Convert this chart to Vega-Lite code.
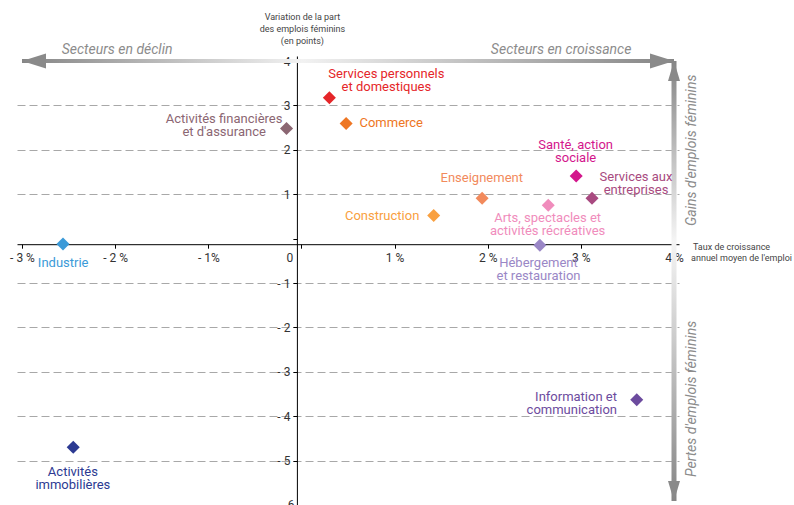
{
  "$schema": "https://vega.github.io/schema/vega-lite/v6.json",
  "width": 794,
  "height": 505,
  "autosize": {"type": "fit", "contains": "padding"},
  "padding": {"left": 9, "top": 12, "right": 2, "bottom": -7},
  "background": "white",
  "config": {"view": {"stroke": null}, "font": "Roboto"},
  "datasets": {
    "points": [
      {"sector": "Services personnels et domestiques", "x": 0.30, "y": 3.17},
      {"sector": "Commerce", "x": 0.48, "y": 2.59},
      {"sector": "Activités financières et d'assurance", "x": -0.16, "y": 2.48},
      {"sector": "Enseignement", "x": 1.94, "y": 0.91},
      {"sector": "Construction", "x": 1.42, "y": 0.52},
      {"sector": "Arts, spectacles et activités récréatives", "x": 2.65, "y": 0.75},
      {"sector": "Santé, action sociale", "x": 2.95, "y": 1.41},
      {"sector": "Services aux entreprises", "x": 3.12, "y": 0.91},
      {"sector": "Hébergement et restauration", "x": 2.56, "y": -0.15},
      {"sector": "Industrie", "x": -2.56, "y": -0.12},
      {"sector": "Information et communication", "x": 3.60, "y": -3.63},
      {"sector": "Activités immobilières", "x": -2.45, "y": -4.70}
    ],
    "labels": [
      {"sector": "Services personnels et domestiques", "label": "Services personnels\net domestiques", "anchor": "center", "x": 0.912, "y": 3.707},
      {"sector": "Commerce", "label": "Commerce", "anchor": "left", "x": 0.623, "y": 2.61},
      {"sector": "Activités financières et d'assurance", "label": "Activités financières\net d'assurance", "anchor": "center", "x": -0.83, "y": 2.702},
      {"sector": "Enseignement", "label": "Enseignement", "anchor": "center", "x": 1.936, "y": 1.36},
      {"sector": "Construction", "label": "Construction", "anchor": "right", "x": 1.266, "y": 0.506},
      {"sector": "Arts, spectacles et activités récréatives", "label": "Arts, spectacles et\nactivités récréatives", "anchor": "center", "x": 2.643, "y": 0.456},
      {"sector": "Santé, action sociale", "label": "Santé, action\nsociale", "anchor": "center", "x": 2.944, "y": 2.097},
      {"sector": "Services aux entreprises", "label": "Services aux\nentreprises", "anchor": "center", "x": 3.592, "y": 1.381},
      {"sector": "Hébergement et restauration", "label": "Hébergement\net restauration", "anchor": "center", "x": 2.545, "y": -0.56},
      {"sector": "Industrie", "label": "Industrie", "anchor": "center", "x": -2.558, "y": -0.558},
      {"sector": "Information et communication", "label": "Information et\ncommunication", "anchor": "right", "x": 3.388, "y": -3.562},
      {"sector": "Activités immobilières", "label": "Activités\nimmobilières", "anchor": "center", "x": -2.454, "y": -5.266}
    ],
    "hbar": [{"x": -3, "x2": 4, "y": 4}],
    "vbar": [{"x": 4, "y": 4, "y2": -5.91}],
    "heads": [
      {"dir": "left", "x": -3, "y": 4},
      {"dir": "right", "x": 4, "y": 4},
      {"dir": "up", "x": 4, "y": 4},
      {"dir": "down", "x": 4, "y": -5.91}
    ],
    "bottomtick": [{"text": "- 6", "x": 0, "y": -6}],
    "notes": [
      {"text": "Secteurs en déclin", "kind": "h", "x": -1.979, "y": 4},
      {"text": "Secteurs en croissance", "kind": "h", "x": 2.788, "y": 4},
      {"text": "Gains d'emplois féminins", "kind": "v", "x": 4, "y": 1.99},
      {"text": "Pertes d'emplois féminins", "kind": "v", "x": 4, "y": -3.61},
      {"text": "Variation de la part\ndes emplois féminins\n(en points)", "kind": "yt", "x": 0, "y": 4},
      {"text": "Taux de croissance", "kind": "xt1", "x": 4, "y": 0},
      {"text": "annuel moyen de l'emploi", "kind": "xt2", "x": 4, "y": 0}
    ]
  },
  "encoding": {
    "x": {
      "field": "x",
      "type": "quantitative",
      "scale": {"domain": [-3, 4], "nice": false, "zero": false},
      "axis": {
        "orient": "bottom",
        "offset": -265.8,
        "values": [-3, -2, -1, 0, 1, 2, 3, 4],
        "labelExpr": "datum.value == 0 ? '0' : datum.value == -1 ? '- 1%' : datum.value < 0 ? '- ' + abs(datum.value) + ' %' : datum.value + ' %'",
        "labelOffset": {"condition": {"test": "datum.value == 0", "value": -12}, "value": 0},
        "labelFont": "Roboto",
        "labelFontSize": 12,
        "labelColor": "#333333",
        "labelPadding": 4,
        "labelFlush": false,
        "labelOverlap": false,
        "grid": false,
        "domainColor": "#000000",
        "domainWidth": 1,
        "tickColor": "#000000",
        "tickSize": 4,
        "title": null
      }
    },
    "y": {
      "field": "y",
      "type": "quantitative",
      "scale": {"domain": [-6, 4], "nice": false, "zero": false},
      "axis": {
        "orient": "left",
        "offset": -279.9,
        "values": [-6, -5, -4, -3, -2, -1, 0, 1, 2, 3, 4],
        "labelExpr": "datum.value == 0 || datum.value == -6 ? '' : datum.value < 0 ? '- ' + abs(datum.value) : datum.label",
        "labelFont": "Roboto",
        "labelFontSize": 12,
        "labelColor": "#333333",
        "labelPadding": 3,
        "labelFlush": false,
        "labelOverlap": false,
        "grid": true,
        "gridColor": "#a8a8a8",
        "gridDash": [8, 4],
        "gridWidth": 1,
        "gridOpacity": {"condition": {"test": "datum.value == 0 || datum.value == 4", "value": 0}, "value": 1},
        "domainColor": "#000000",
        "domainWidth": 1,
        "tickColor": "#000000",
        "tickSize": 4,
        "title": null
      }
    }
  },
  "layer": [
    {
      "data": {"name": "hbar"},
      "mark": {
        "type": "bar",
        "height": 4,
        "color": {
          "gradient": "linear",
          "x1": 0, "y1": 0, "x2": 1, "y2": 0,
          "stops": [
            {"offset": 0, "color": "#858585"},
            {"offset": 0.43, "color": "#f2f2f2"},
            {"offset": 1, "color": "#858585"}
          ]
        }
      },
      "encoding": {"x2": {"field": "x2"}}
    },
    {
      "data": {"name": "vbar"},
      "mark": {
        "type": "bar",
        "width": 5,
        "color": {
          "gradient": "linear",
          "x1": 0, "y1": 0, "x2": 0, "y2": 1,
          "stops": [
            {"offset": 0, "color": "#858585"},
            {"offset": 0.41, "color": "#f5f5f5"},
            {"offset": 1, "color": "#858585"}
          ]
        }
      },
      "encoding": {"y2": {"field": "y2"}}
    },
    {
      "data": {"name": "heads"},
      "mark": {"type": "point", "filled": true, "size": 36, "color": "#8a8a8a", "opacity": 1},
      "encoding": {
        "shape": {
          "field": "dir",
          "type": "nominal",
          "scale": {
            "domain": ["left", "right", "up", "down"],
            "range": [
              "M 0 0 L 8 -2.5 L 8 2.5 Z",
              "M 0 0 L -8 -2.5 L -8 2.5 Z",
              "M 0 0 L -2 6.667 L 2 6.667 Z",
              "M 0 0 L -2 -6.667 L 2 -6.667 Z"
            ]
          },
          "legend": null
        }
      }
    },
    {
      "data": {"name": "points"},
      "mark": {"type": "point", "shape": "diamond", "filled": true, "size": 170, "opacity": 1},
      "encoding": {
        "color": {
          "field": "sector",
          "type": "nominal",
          "scale": {
            "domain": ["Services personnels et domestiques", "Commerce", "Activités financières et d'assurance", "Enseignement", "Construction", "Arts, spectacles et activités récréatives", "Santé, action sociale", "Services aux entreprises", "Hébergement et restauration", "Industrie", "Information et communication", "Activités immobilières"],
            "range": ["#e52629", "#ee7623", "#8b6672", "#f28a5c", "#f9a040", "#f08cbc", "#d3168c", "#a84a80", "#9a87c6", "#3b9ad8", "#6c4b9e", "#2c3a92"]
          },
          "legend": null
        }
      }
    },
    {
      "data": {"name": "bottomtick"},
      "mark": {"type": "text", "align": "right", "baseline": "middle", "dx": -7, "clip": true, "fontSize": 12, "color": "#333333", "font": "Roboto"},
      "encoding": {"text": {"field": "text"}}
    },
    {
      "data": {"name": "labels"},
      "transform": [{"filter": "datum.anchor == 'center'"}],
      "mark": {"type": "text", "align": "center", "baseline": "middle", "fontSize": 13, "lineHeight": 13, "lineBreak": "\n", "font": "Roboto"},
      "encoding": {"text": {"field": "label"}, "color": {"field": "sector", "type": "nominal", "legend": null}}
    },
    {
      "data": {"name": "labels"},
      "transform": [{"filter": "datum.anchor == 'left'"}],
      "mark": {"type": "text", "align": "left", "baseline": "middle", "fontSize": 13, "lineHeight": 13, "lineBreak": "\n", "font": "Roboto"},
      "encoding": {"text": {"field": "label"}, "color": {"field": "sector", "type": "nominal", "legend": null}}
    },
    {
      "data": {"name": "labels"},
      "transform": [{"filter": "datum.anchor == 'right'"}],
      "mark": {"type": "text", "align": "right", "baseline": "middle", "fontSize": 13, "lineHeight": 13, "lineBreak": "\n", "font": "Roboto"},
      "encoding": {"text": {"field": "label"}, "color": {"field": "sector", "type": "nominal", "legend": null}}
    },
    {
      "data": {"name": "notes"},
      "transform": [{"filter": "datum.kind == 'h'"}],
      "mark": {"type": "text", "align": "center", "baseline": "alphabetic", "dy": -7, "fontSize": 14, "fontStyle": "italic", "color": "#8c8c8c", "font": "Roboto"},
      "encoding": {"text": {"field": "text"}}
    },
    {
      "data": {"name": "notes"},
      "transform": [{"filter": "datum.kind == 'v'"}],
      "mark": {"type": "text", "align": "center", "baseline": "middle", "angle": 270, "dy": 18, "fontSize": 14, "fontStyle": "italic", "color": "#8c8c8c", "font": "Roboto"},
      "encoding": {"text": {"field": "text"}}
    },
    {
      "data": {"name": "notes"},
      "transform": [{"filter": "datum.kind == 'yt'"}],
      "mark": {"type": "text", "align": "center", "baseline": "middle", "dx": 1, "dy": -44, "fontSize": 9, "lineHeight": 12, "lineBreak": "\n", "color": "#444444", "font": "Roboto"},
      "encoding": {"text": {"field": "text"}}
    },
    {
      "data": {"name": "notes"},
      "transform": [{"filter": "datum.kind == 'xt1'"}],
      "mark": {"type": "text", "align": "left", "baseline": "middle", "dx": 19, "dy": 8.5, "fontSize": 9, "color": "#444444", "font": "Roboto"},
      "encoding": {"text": {"field": "text"}}
    },
    {
      "data": {"name": "notes"},
      "transform": [{"filter": "datum.kind == 'xt2'"}],
      "mark": {"type": "text", "align": "right", "baseline": "middle", "dx": 118, "dy": 19.5, "fontSize": 9, "color": "#444444", "font": "Roboto"},
      "encoding": {"text": {"field": "text"}}
    }
  ]
}
